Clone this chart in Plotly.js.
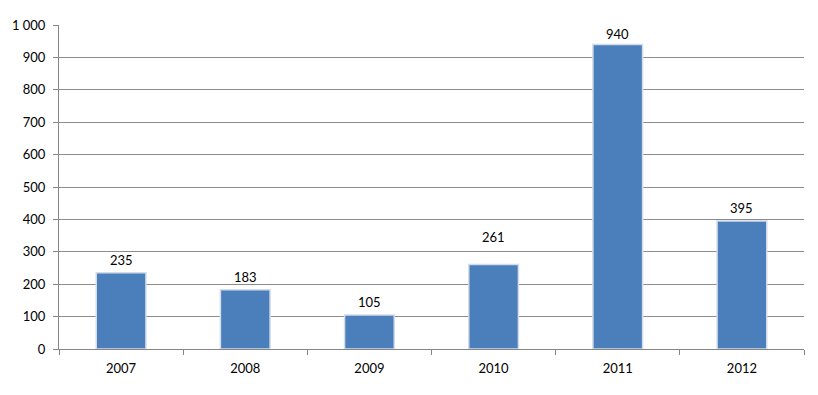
<!DOCTYPE html>
<html>
<head>
<meta charset="utf-8">
<script src="https://cdn.plot.ly/plotly-3.0.1.min.js"></script>
<style>html,body{margin:0;padding:0;background:#fff;}#chart{width:818px;height:395px;}</style>
</head>
<body>
<div id="chart"></div>
<script>
const years = ['2007', '2008', '2009', '2010', '2011', '2012'];
const values = [235, 183, 105, 261, 940, 395];
const yTickVals = [0, 100, 200, 300, 400, 500, 600, 700, 800, 900, 1000];
const yTickText = ['0', '100', '200', '300', '400', '500', '600', '700', '800', '900', '1 000'];

function mkFont() { return {family: 'Lato, "Open Sans", sans-serif', size: 13, color: '#000'}; }

// label offsets above bar tops (styling, not data)
function labelShift(i) { return i === 3 ? 17 : (i === 4 ? 0 : 3); }

const annotations = values.map((v, i) => ({
  xref: 'x', yref: 'y', x: i, y: v, text: String(v), showarrow: false,
  yanchor: 'bottom', yshift: labelShift(i), font: mkFont()
}));

Plotly.newPlot('chart', [{
  type: 'bar', x: years.slice(), y: values.slice(),
  marker: {color: '#4A7FBB', line: {color: '#D3DCE8', width: 1.5}},
  hoverinfo: 'none'
}], {
  width: 818, height: 395,
  margin: {l: 59, r: 14, t: 25, b: 46},
  paper_bgcolor: '#fff', plot_bgcolor: '#fff',
  bargap: 0.6,
  showlegend: false,
  font: mkFont(),
  xaxis: {type: 'category', categoryorder: 'array', categoryarray: years.slice(), range: [-0.5, 5.5],
    showgrid: false, showline: true, linecolor: '#868686', linewidth: 1,
    ticks: 'outside', tickson: 'boundaries', ticklen: 5, tickcolor: '#868686', tickfont: mkFont(), tickangle: 0,
    ticklabelstandoff: 7},
  yaxis: {range: [0, 1000], tickmode: 'array', tickvals: yTickVals, ticktext: yTickText, showgrid: true,
    gridcolor: '#8C8C8C', gridwidth: 1, showline: true, linecolor: '#868686', linewidth: 1,
    ticks: 'outside', ticklen: 5, tickcolor: '#868686', tickfont: mkFont(), zeroline: false,
    ticklabelstandoff: 5},
  annotations: annotations
}, {staticPlot: true});
</script>
</body>
</html>
